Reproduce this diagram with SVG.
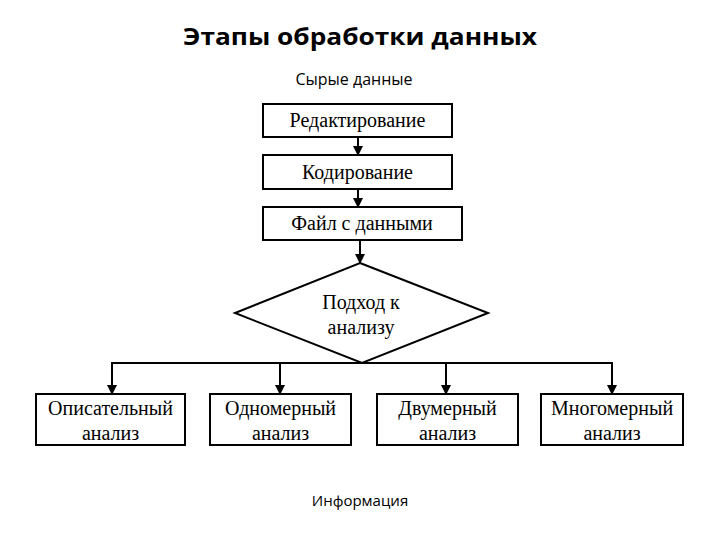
<svg xmlns="http://www.w3.org/2000/svg" width="720" height="540" viewBox="0 0 720 540">
<style>
.box{fill:#fff;stroke:#000;stroke-width:2}
.t{font-family:"Liberation Serif","Times New Roman",serif;font-size:20px;fill:#000;text-anchor:middle}
.s{font-family:"Open Sans","Liberation Sans",sans-serif;fill:#000;text-anchor:middle}
.c{fill:none;stroke:#000;stroke-width:2}
</style>
<defs>
<marker id="ah" viewBox="0 0 10 10" refX="9" refY="5" markerWidth="5" markerHeight="5" orient="auto" markerUnits="strokeWidth">
<path d="M0,0 L10,5 L0,10 z" fill="#000"/>
</marker>
</defs>
<rect width="720" height="540" fill="#fff"/>
<text class="s" x="360" y="45" font-size="24" font-weight="bold" textLength="354" lengthAdjust="spacingAndGlyphs">Этапы обработки данных</text>
<text class="s" x="354" y="85" font-size="16" font-weight="500">Сырые данные</text>
<text class="s" x="360" y="506" font-size="15" font-weight="500">Информация</text>
<g id="connectors">
<line class="c" x1="358" y1="137" x2="358" y2="155" marker-end="url(#ah)"/>
<line class="c" x1="358" y1="189" x2="358" y2="207" marker-end="url(#ah)"/>
<line class="c" x1="360" y1="240" x2="360" y2="263" marker-end="url(#ah)"/>
<line class="c" x1="111" y1="363" x2="613" y2="363"/>
<line class="c" x1="112" y1="363" x2="112" y2="394" marker-end="url(#ah)"/>
<line class="c" x1="280" y1="363" x2="280" y2="394" marker-end="url(#ah)"/>
<line class="c" x1="446" y1="363" x2="446" y2="394" marker-end="url(#ah)"/>
<line class="c" x1="612" y1="363" x2="612" y2="394" marker-end="url(#ah)"/>
</g>
<g id="n1"><rect class="box" x="263" y="104" width="189" height="33"/><text class="t" x="357.5" y="127">Редактирование</text></g>
<g id="n2"><rect class="box" x="263" y="155" width="189" height="34"/><text class="t" x="357.5" y="179">Кодирование</text></g>
<g id="n3"><rect class="box" x="263" y="207" width="199" height="33"/><text class="t" x="362" y="230">Файл с данными</text></g>
<g id="n4"><polygon class="box" points="360,263 488,313 362,363 235,313"/><text class="t" x="361" y="309">Подход к</text><text class="t" x="361" y="334">анализу</text></g>
<g id="n5"><rect class="box" x="36" y="394" width="149" height="51"/><text class="t" x="110.5" y="415">Описательный</text><text class="t" x="110.5" y="440">анализ</text></g>
<g id="n6"><rect class="box" x="210" y="394" width="141" height="51"/><text class="t" x="280.5" y="415">Одномерный</text><text class="t" x="280.5" y="440">анализ</text></g>
<g id="n7"><rect class="box" x="377" y="394" width="141" height="51"/><text class="t" x="447.5" y="415">Двумерный</text><text class="t" x="447.5" y="440">анализ</text></g>
<g id="n8"><rect class="box" x="541" y="394" width="142" height="51"/><text class="t" x="612" y="415">Многомерный</text><text class="t" x="612" y="440">анализ</text></g>
</svg>
